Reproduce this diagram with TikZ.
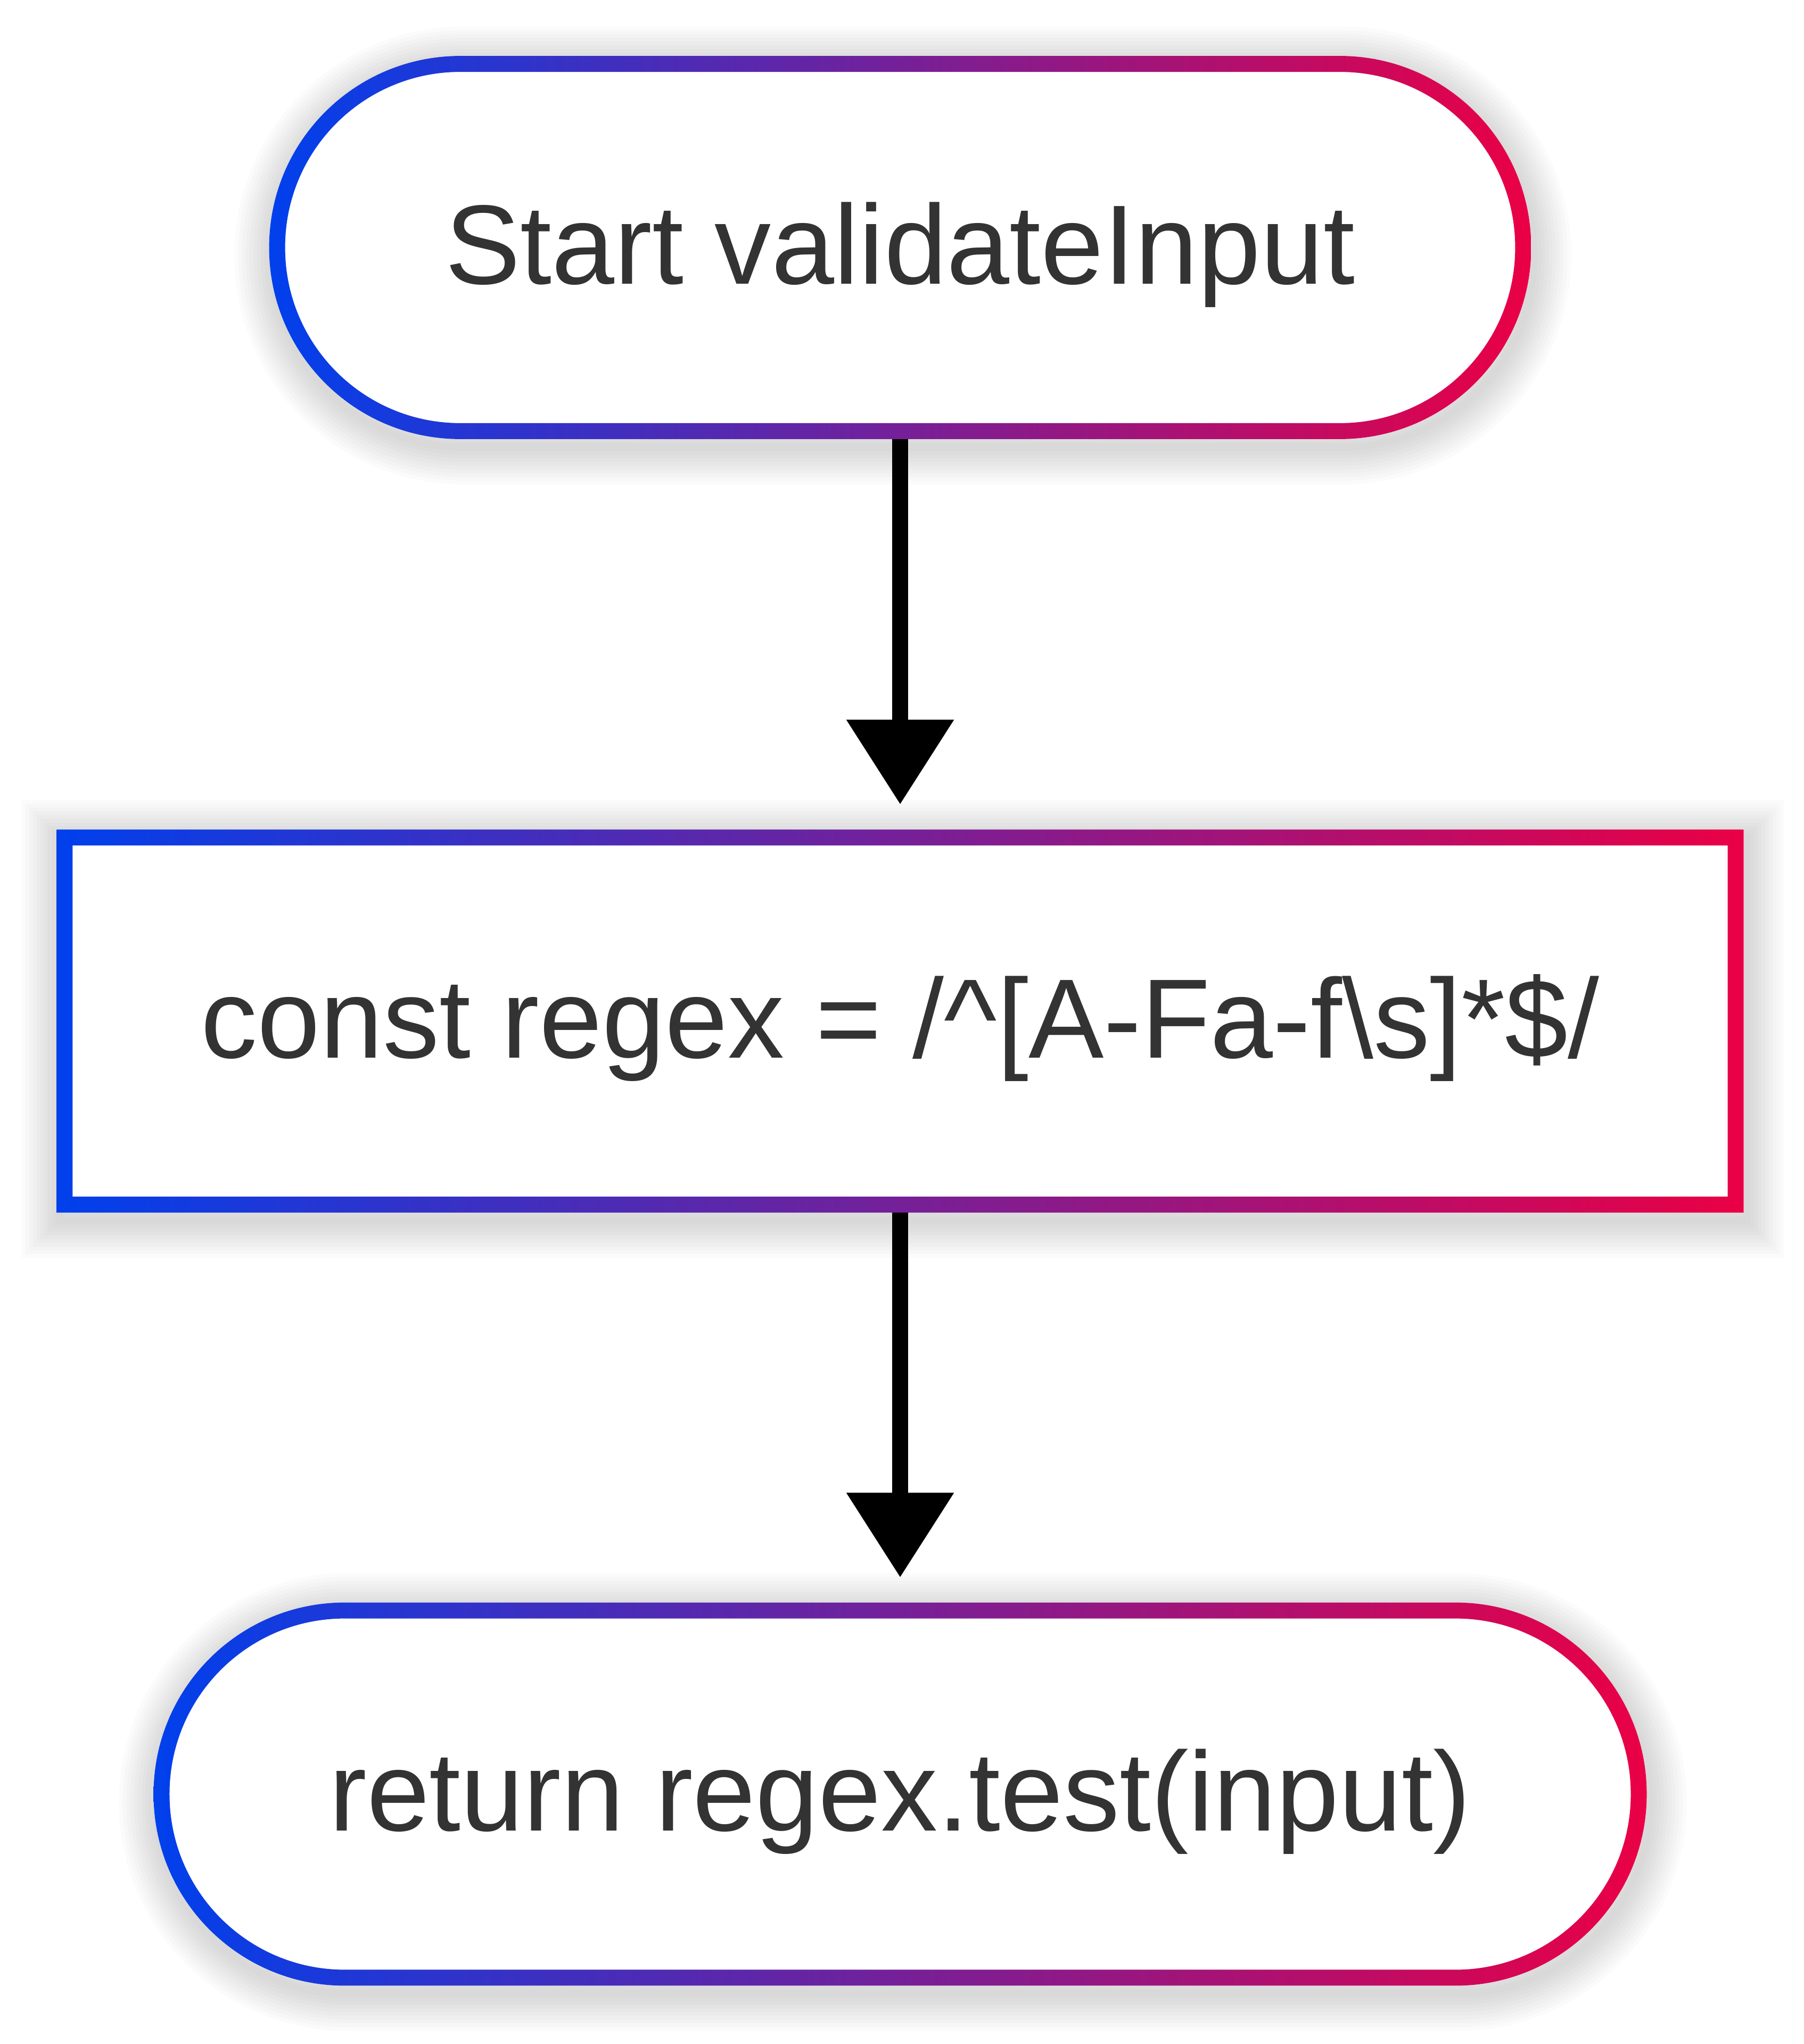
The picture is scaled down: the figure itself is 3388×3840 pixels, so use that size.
\documentclass[tikz,border=0pt]{standalone}
\usepackage{fontspec}
\setmainfont{Liberation Sans}
\usetikzlibrary{positioning,arrows.meta,calc,backgrounds}
\definecolor{gradL}{HTML}{0040EC}
\definecolor{gradR}{HTML}{EA0045}
\definecolor{ink}{HTML}{333333}

\tikzset{
  box/.style={inner sep=0pt, text=ink, font=\fontsize{60.3}{72}\selectfont,
    text height=54.3pt, text depth=15.1pt, minimum height=7.18cm},
  flow/.style={draw=black, line width=0.3cm,
    -{Triangle[length=1.59cm,width=1.94cm]}, shorten >=0.47cm},
}

\begin{document}
\begin{tikzpicture}[x=0.01cm,y=-0.01cm]
\useasboundingbox (0,0) rectangle (3388,3840);

\node[box, minimum width=23.68cm] (start) at (1691,465) {Start validateInput};
\node[box, minimum width=31.66cm, below=7.33cm of start] (regex)
  {const regex = /\textasciicircum[A-Fa-f\textbackslash s]*\$/};
\node[box, minimum width=28.02cm, below=7.32cm of regex] (ret) {return regex.test(input)};

% shadow, white body and gradient border behind the text
\begin{scope}[on background layer]
\foreach \nd/\ro/\rin in {start/3.59cm/3.29cm, regex/0pt/0pt, ret/3.59cm/3.29cm} {
  \foreach \w in {1,...,10}
    \draw[black, opacity=0.014, line width=\w*0.14cm, rounded corners=\ro,
      transform canvas={xshift=0.05cm,yshift=-0.15cm}] (\nd.north west) rectangle (\nd.south east);
  \fill[white, rounded corners=\ro] (\nd.north west) rectangle (\nd.south east);
  \shade[left color=gradL, right color=gradR, even odd rule]
    [rounded corners=\ro] (\nd.north west) rectangle (\nd.south east)
    [rounded corners=\rin] ($(\nd.north west)+(30,30)$) rectangle ($(\nd.south east)-(30,30)$);
}
\end{scope}

\draw[flow] (start) -- (regex);
\draw[flow] (regex) -- (ret);
\end{tikzpicture}
\end{document}
